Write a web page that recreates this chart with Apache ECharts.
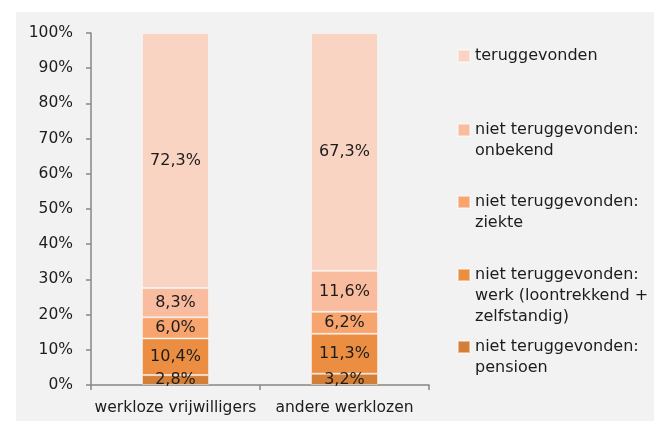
<!DOCTYPE html>
<html>
<head>
<meta charset="utf-8">
<script src="https://cdn.jsdelivr.net/npm/echarts@6/dist/echarts.min.js"></script>
<style>html,body{margin:0;padding:0;background:#fff}#c{width:654px;height:421px}</style>
</head>
<body>
<div id="c"></div>
<script>
var categories = ['werkloze vrijwilligers', 'andere werklozen'];
var seriesNames = ['niet teruggevonden: pensioen', 'niet teruggevonden: werk', 'niet teruggevonden: ziekte', 'niet teruggevonden: onbekend', 'teruggevonden'];
var pensioen = [2.8, 3.2];
var werk = [10.4, 11.3];
var ziekte = [6.0, 6.2];
var onbekend = [8.3, 11.6];
var teruggevonden = [72.3, 67.3];
var legendOrder = ['teruggevonden', 'niet teruggevonden: onbekend', 'niet teruggevonden: ziekte', 'niet teruggevonden: werk', 'niet teruggevonden: pensioen'];
var legendTexts = ['teruggevonden', 'niet teruggevonden:\nonbekend', 'niet teruggevonden:\nziekte', 'niet teruggevonden:\nwerk (loontrekkend +\nzelfstandig)', 'niet teruggevonden:\npensioen'];
var yTicks = [0, 10, 20, 30, 40, 50, 60, 70, 80, 90, 100];

var values = [pensioen, werk, ziekte, onbekend, teruggevonden];
var colors = ['#d47f37', '#ec8e42', '#f7a46e', '#f9bc9e', '#f9d4c3'];

// 100% stacked: each bar is scaled to its total, labels keep the printed values
var totals = categories.map(function (c, j) {
  return values.reduce(function (s, arr) { return s + arr[j]; }, 0);
});

var FONT = 'DejaVu Sans';
var TEXT = '#1c1c1c';
var series = seriesNames.map(function (name, i) {
  return {
    name: name,
    type: 'bar',
    stack: 'total',
    barWidth: 67,
    data: values[i].map(function (v, j) { return { value: v / totals[j] * 100, raw: v }; }),
    itemStyle: { color: colors[i], borderColor: 'rgba(255,255,255,0.45)', borderWidth: 1 },
    label: {
      show: true,
      position: 'inside',
      color: TEXT,
      fontFamily: FONT,
      fontSize: 16,
      formatter: function (p) { return p.data.raw.toFixed(1).replace('.', ',') + '%'; }
    },
    emphasis: { disabled: true }
  };
});

var iconTops = [50, 124, 196, 269, 341];
var L = 21;
var legends = legendOrder.map(function (name, k) {
  var text = legendTexts[k];
  var n = text.split('\n').length;
  var shown = new Array(n).join('\n') + text; // leading blank lines keep the first line level with the icon
  var boxY = 6 - (2 * n - 1) * L / 2;
  return {
    orient: 'vertical',
    left: 457,
    top: iconTops[k] + boxY,
    padding: 0,
    itemWidth: 12,
    itemHeight: 12,
    icon: 'rect',
    selectedMode: false,
    data: [name],
    formatter: function () { return shown; },
    textStyle: {
      fontFamily: FONT,
      fontSize: 16,
      color: TEXT,
      lineHeight: L
    }
  };
});

var chart = echarts.init(document.getElementById('c'));
chart.setOption({
  backgroundColor: '#f2f2f2',
  animation: false,
  graphic: [
    { type: 'rect', shape: { x: 0, y: 0, width: 654, height: 12 }, style: { fill: '#fff' }, silent: true },
    { type: 'rect', shape: { x: 0, y: 0, width: 16, height: 421 }, style: { fill: '#fff' }, silent: true }
  ],
  grid: { left: 91, top: 33, right: 225, bottom: 36, containLabel: false },
  legend: legends,
  xAxis: {
    type: 'category',
    data: categories,
    axisLine: { lineStyle: { color: '#878787', width: 1.5 } },
    axisTick: { show: true, length: 5, lineStyle: { color: '#878787', width: 1.5 } },
    axisLabel: { interval: 0, color: TEXT, fontFamily: FONT, fontSize: 15.5, margin: 15 }
  },
  yAxis: {
    type: 'value',
    min: 0,
    max: 100,
    interval: 10,
    axisLine: { show: true, lineStyle: { color: '#878787', width: 1.5 } },
    axisTick: { show: true, length: 5, lineStyle: { color: '#878787', width: 1.5 } },
    splitLine: { show: false },
    axisLabel: {
      color: TEXT, fontFamily: FONT, fontSize: 15.5, margin: 18,
      formatter: function (v) { return yTicks.indexOf(v) >= 0 ? v + '%' : ''; }
    }
  },
  series: series
});
</script>
</body>
</html>
